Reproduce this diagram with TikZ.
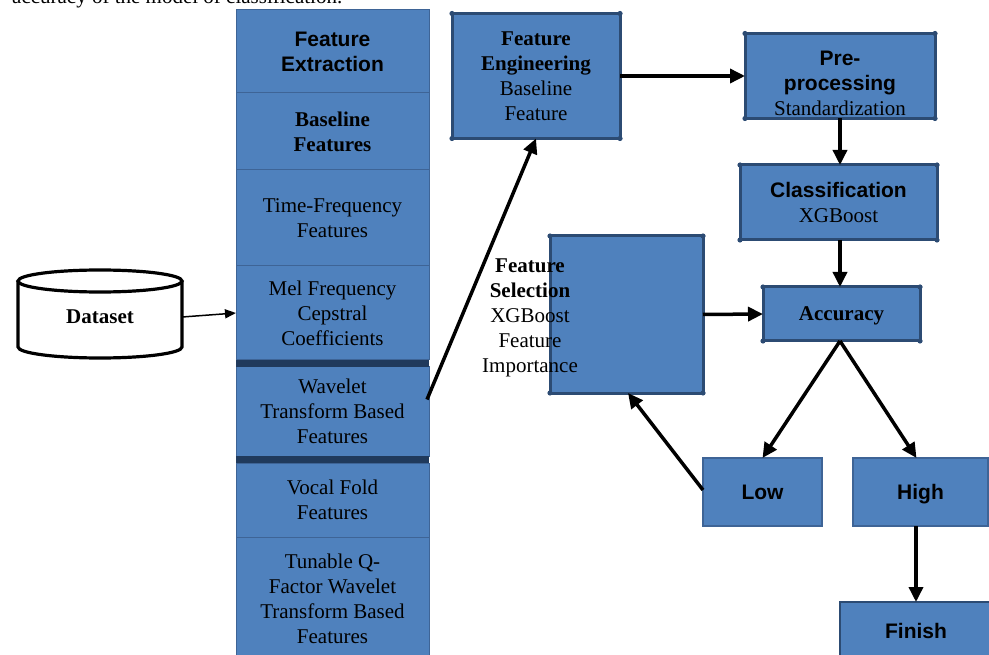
\documentclass[tikz,border=0pt]{standalone}
\usepackage{fontspec}
\setmainfont{Liberation Serif}
\setsansfont{Liberation Sans}
\usetikzlibrary{arrows.meta,calc}
\definecolor{boxfill}{HTML}{4F81BD}
\definecolor{boxedge}{HTML}{2C4B73}
\definecolor{thinedge}{HTML}{3E6496}
\definecolor{bandcol}{HTML}{203A5C}
\begin{document}
\begin{tikzpicture}[x=1pt,y=-1pt,
  base/.style={font=\fontsize{21}{25}\selectfont},
  colsec/.style={base, draw=thinedge, line width=1pt, fill=boxfill, minimum width=193pt,
    inner sep=0pt, outer sep=0pt, align=center, anchor=north},
  bigbox/.style={base, draw=boxedge, line width=3pt, fill=boxfill, inner sep=0pt,
    outer sep=0pt, align=center},
  thinbox/.style={base, draw=thinedge, line width=1.2pt, fill=boxfill, inner sep=0pt,
    outer sep=0pt, align=center},
  txt/.style={base, align=center, inner sep=0pt},
  sfb/.style={font=\fontsize{21}{25}\selectfont\sffamily\bfseries},
  arr/.style={line width=3.5pt, -{Triangle[length=15pt,width=14pt]}},
  thinarr/.style={line width=1.5pt, -{Triangle[length=11pt,width=9pt]}}]
\useasboundingbox (0,0) rectangle (989,655);
\clip (0,0) rectangle (989,655);

% cut caption line at the top
\node[base, anchor=base west, inner sep=0pt] (cap) at (12,3.5) {accuracy of the model of classification.};

% feature extraction column
\node[colsec, sfb, minimum height=83pt] (fx) at (332.5,10) {Feature\\Extraction};
\node[colsec, minimum height=77pt] (bl) at (332.5,93) {\textbf{Baseline}\\\textbf{Features}};
\node[colsec, minimum height=96pt] (tf) at (332.5,170) {Time-Frequency\\Features};
\node[colsec, minimum height=94pt] (mel) at (332.5,266) {Mel Frequency\\Cepstral\\Coefficients};
\node[colsec, minimum height=89pt] (wav) at (332.5,367) {Wavelet\\Transform Based\\Features};
\node[colsec, minimum height=74pt] (voc) at (332.5,463) {Vocal Fold\\Features};
\node[colsec, minimum height=123pt] (tq) at (332.5,537) {Tunable Q-\\Factor Wavelet\\Transform Based\\Features};
\fill[bandcol] (236,360) rectangle (429,367);
\fill[bandcol] (236,456) rectangle (429,463);

% dataset cylinder
\draw[line width=3.2pt, fill=white] (18,281) -- (18,347)
  arc[start angle=180, end angle=360, x radius=82pt, y radius=11pt] -- (182,281);
\draw[line width=3.2pt, fill=white] (100,281) ellipse [x radius=82pt, y radius=11pt];
\node[txt, minimum width=164pt, minimum height=60pt, font=\fontsize{21}{25}\selectfont\bfseries] (ds) at (100,317) {Dataset};

% right-hand boxes
\node[bigbox, minimum width=168pt, minimum height=125pt] (fe) at (536,76)
  {\textbf{Feature}\\\textbf{Engineering}\\Baseline\\Feature};
\node[bigbox, minimum width=190pt, minimum height=85pt] (pre) at (840,76) {};
\node[txt] (pretx) at (840,83) {\sffamily\bfseries Pre-\\\sffamily\bfseries processing\\Standardization};
\node[bigbox, minimum width=197pt, minimum height=75pt] (cls) at (838.5,202.5)
  {\sffamily\bfseries Classification\\XGBoost};
\node[bigbox, minimum width=157pt, minimum height=54pt, text depth=0pt, font=\fontsize{21}{25}\selectfont\bfseries] (acc) at (841.5,314) {Accuracy};
\node[bigbox, minimum width=153pt, minimum height=157pt] (fs) at (626.5,314.5) {};
\node[txt] (fstx) at (530,318) {\textbf{Feature}\\\textbf{Selection}\\XGBoost\\Feature\\Importance};
\node[thinbox, sfb, text depth=0pt, minimum width=119pt, minimum height=68pt] (low) at (762.5,492) {Low};
\node[thinbox, sfb, text depth=0pt, minimum width=135pt, minimum height=68pt] (high) at (920.5,492) {High};
\node[bigbox, sfb, line width=2pt, minimum width=152pt, minimum height=58pt] (fin) at (916,631) {Finish};

% corner dots
\foreach \n in {fe,pre,cls,acc,fs}{
  \foreach \c in {north west,north east,south west,south east}{
    \fill[boxedge] (\n.\c) circle (2.6pt);}}

% connectors
\draw[thinarr] (ds.east) -- (mel.west);
\draw[arr] ($(wav.east)+(-2,-12)$) -- (fe.south);
\draw[arr] (fe.east) -- (pre.west);
\draw[arr] (pre.south) -- (pre.south |- cls.north);
\draw[arr] ($(cls.south)+(1.5,0)$) -- ($(acc.north)+(-1.5,0)$);
\draw[arr] (fs.east) -- (acc.west);
\draw[arr] ($(acc.south)+(-1.5,0)$) -- (low.north);
\draw[arr] ($(acc.south)+(-1.5,0)$) -- ($(high.north)+(-4,0)$);
\draw[arr] ($(low.west)+(0,-2)$) -- ($(fs.south)+(1.5,0)$);
\draw[arr] (fin.north |- high.south) -- (fin.north);
\end{tikzpicture}
\end{document}
